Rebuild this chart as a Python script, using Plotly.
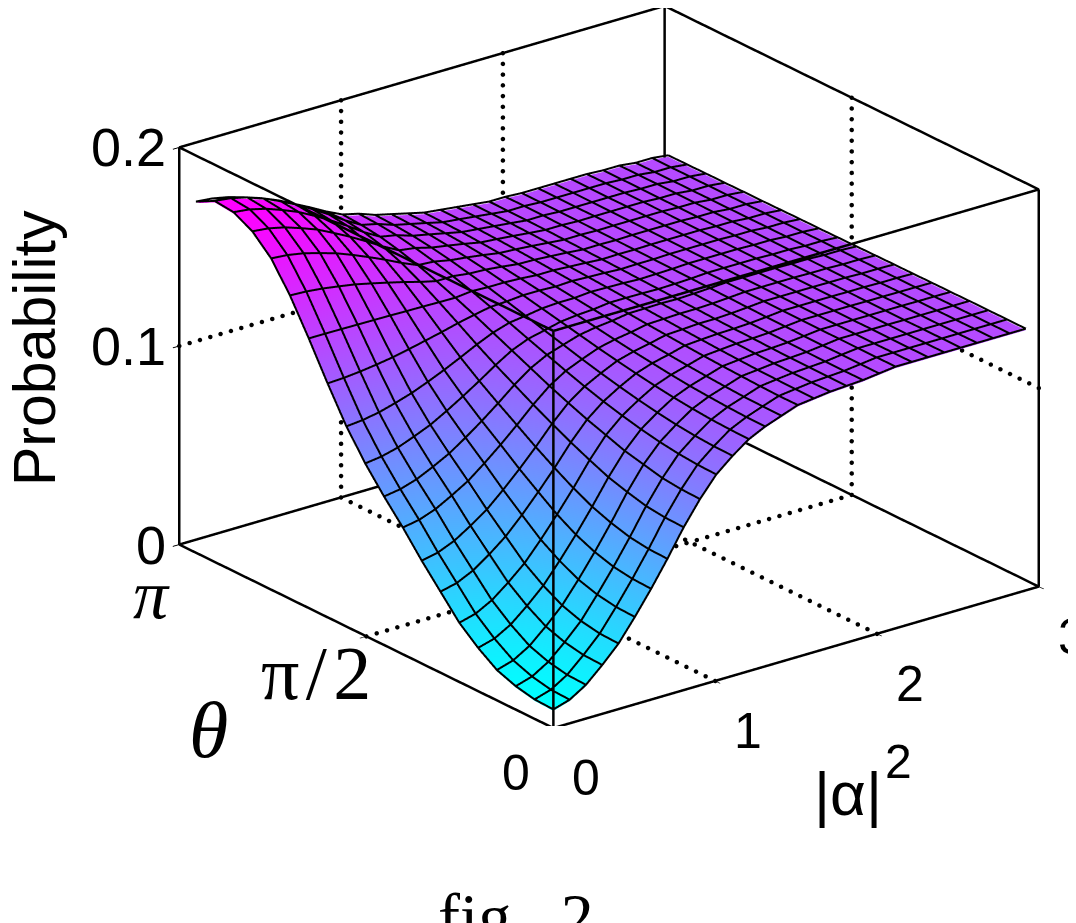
import plotly.graph_objects as go
import math

alpha2 = [0.1007 * i for i in range(30)]
theta = [0.158 * j for j in range(20)]
# rows: |alpha|^2 (30), columns: theta (20)
prob = [
[.0086,.009,.011,.0145,.021,.029,.040,.051,.063,.074,.086,.100,.117,.135,.152,.166,.175,.180,.181,.176],
[.0111,.0115,.0135,.017,.0233,.0312,.042,.0527,.0645,.0753,.0871,.1008,.1174,.135,.1516,.1653,.1741,.179,.18,.1752],
[.0162,.0166,.0185,.0219,.028,.0356,.0459,.0562,.0675,.0779,.0892,.1023,.1182,.1349,.1507,.1638,.1722,.1769,.178,.1735],
[.0238,.0242,.026,.0293,.035,.0421,.0517,.0614,.072,.0818,.0924,.1046,.1193,.1348,.1494,.1615,.1694,.1739,.175,.171],
[.0322,.0326,.0343,.0375,.0428,.0494,.0583,.0672,.0769,.0861,.0959,.1072,.1206,.1347,.148,.159,.1663,.1705,.1716,.1682],
[.0432,.0436,.0452,.0481,.0529,.0589,.0667,.0747,.0834,.0917,.1005,.1105,.1223,.1346,.1461,.1558,.1622,.1661,.1672,.1645],
[.055,.0554,.0568,.0596,.0637,.0692,.0759,.0828,.0904,.0977,.1055,.1141,.1242,.1344,.1441,.1523,.1579,.1614,.1625,.1606],
[.0677,.068,.0693,.0719,.0754,.0801,.0856,.0915,.0979,.1042,.1108,.118,.1261,.1343,.142,.1486,.1532,.1563,.1575,.1564],
[.0812,.0815,.0826,.085,.0878,.0918,.0961,.1008,.1058,.1111,.1164,.1221,.1282,.1341,.1397,.1446,.1483,.1508,.1521,.1519],
[.093,.0933,.0943,.0965,.0987,.102,.1052,.1089,.1128,.1171,.1214,.1257,.13,.134,.1377,.1411,.1439,.1461,.1474,.148],
[.103,.1033,.1041,.1054,.1072,.1094,.1119,.1148,.118,.1214,.1248,.1283,.1316,.1349,.1378,.1405,.1427,.1445,.1455,.146],
[.110,.1102,.1108,.1118,.1132,.1149,.1169,.1191,.1215,.1241,.1267,.1294,.132,.1345,.1367,.1388,.1405,.1418,.1426,.143],
[.116,.1162,.1166,.1174,.1184,.1197,.1212,.1229,.1247,.1267,.1287,.1307,.1327,.1345,.1363,.1378,.1391,.1401,.1407,.141],
[.120,.1201,.1205,.1211,.1218,.1228,.124,.1252,.1266,.1281,.1296,.1312,.1327,.1341,.1354,.1366,.1376,.1383,.1388,.139],
[.123,.1231,.1233,.1238,.1244,.1251,.1259,.1269,.1279,.1290,.1301,.1312,.1323,.1334,.1343,.1352,.1359,.1365,.1368,.137],
[.126,.126,.1262,.1266,.127,.1275,.1281,.1288,.1295,.1303,.1311,.1319,.1327,.1334,.1341,.1347,.1352,.1356,.1359,.136],
[.127,.127,.1272,.1274,.1278,.1282,.1287,.1292,.1298,.1304,.1311,.1317,.1323,.1329,.1335,.134,.1344,.1347,.1349,.135],
[.128,.128,.1281,.1283,.1286,.1289,.1292,.1297,.1301,.1306,.131,.1315,.132,.1324,.1329,.1332,.1335,.1338,.1339,.134],
[.1285,.1285,.1286,.1287,.1289,.1292,.1294,.1297,.1301,.1304,.1308,.1311,.1315,.1318,.1321,.1324,.1327,.1328,.1329,.133],
[.129,.129,.1291,.1292,.1294,.1296,.1298,.1301,.1304,.1307,.131,.1313,.1317,.132,.1322,.1325,.1327,.1329,.133,.133],
[.130,.130,.1301,.1301,.1302,.1304,.1305,.1307,.1309,.1311,.1313,.1315,.1317,.1319,.132,.1322,.1323,.1324,.1325,.1325],
[.131,.131,.131,.1311,.1311,.1312,.1313,.1314,.1315,.1316,.1318,.1319,.132,.1321,.1322,.1323,.1324,.1324,.1325,.1325],
[.131,.131,.131,.1311,.1311,.1312,.1313,.1314,.1315,.1316,.1318,.1319,.132,.1321,.1322,.1323,.1324,.1324,.1325,.1325],
[.131,.131,.131,.1311,.1311,.1312,.1313,.1314,.1315,.1316,.1318,.1319,.132,.1321,.1322,.1323,.1324,.1324,.1325,.1325],
[.131,.131,.131,.1311,.1311,.1312,.1313,.1314,.1315,.1316,.1318,.1319,.132,.1321,.1322,.1323,.1324,.1324,.1325,.1325],
[.131,.131,.131,.131,.1311,.1311,.1312,.1313,.1313,.1314,.1315,.1316,.1317,.1317,.1318,.1319,.1319,.132,.132,.132],
[.131,.131,.131,.131,.1311,.1311,.1312,.1313,.1313,.1314,.1315,.1316,.1317,.1317,.1318,.1319,.1319,.132,.132,.132],
[.131,.131,.131,.131,.131,.131,.131,.131,.131,.131,.131,.131,.131,.131,.131,.131,.131,.131,.131,.131],
[.131,.131,.131,.131,.131,.131,.131,.131,.131,.131,.131,.131,.131,.131,.131,.131,.131,.131,.131,.131],
[.131,.131,.131,.131,.1309,.1309,.1308,.1308,.1307,.1306,.1305,.1304,.1304,.1303,.1302,.1302,.1301,.1301,.130,.130],
]
x_ticks = [0, 1, 2, 3]
y_ticks = [0, math.pi / 2, math.pi]
y_labels = ["0", "π\u200a/\u200a2", "<i>π</i>"]
z_ticks = [0, 0.1, 0.2]
z_labels = ["0", "0.1", "0.2"]
X0, X1, Y0, Y1, Z0, Z1 = 0, 3, 0, math.pi, 0, 0.2
MESH_LIFT = 0.0008

z_by_theta = [[row[j] for row in prob] for j in range(len(theta))]

fig = go.Figure()
fig.add_trace(go.Surface(
    x=alpha2, y=theta, z=z_by_theta,
    colorscale=[[0, "#00ffff"], [1, "#ff00ff"]], showscale=False,
    lighting=dict(ambient=1, diffuse=0, specular=0, roughness=1, fresnel=0),
    hoverinfo="skip",
))

def seg(xs, ys, zs, width=5):
    fig.add_trace(go.Scatter3d(x=xs, y=ys, z=zs, mode="lines", hoverinfo="skip", showlegend=False,
                               line=dict(color="black", width=width)))

def dotted(a, b, n):
    t = [k / n for k in range(n + 1)]
    fig.add_trace(go.Scatter3d(
        x=[a[0] + (b[0] - a[0]) * s for s in t],
        y=[a[1] + (b[1] - a[1]) * s for s in t],
        z=[a[2] + (b[2] - a[2]) * s for s in t],
        mode="markers", hoverinfo="skip", showlegend=False,
        marker=dict(color="black", size=2.6, line=dict(width=0))))

# surface mesh, drawn from the same table
for j, th in enumerate(theta):
    seg(alpha2, [th] * len(alpha2), [v + MESH_LIFT for v in z_by_theta[j]], 4)
for i, a2 in enumerate(alpha2):
    seg([a2] * len(theta), theta, [v + MESH_LIFT for v in prob[i]], 4)

# dotted grid on floor and the two back walls
for xv in x_ticks[1:-1]:
    dotted((xv, Y0, Z0), (xv, Y1, Z0), 39)
    dotted((xv, Y1, Z0), (xv, Y1, Z1), 37)
for yv in y_ticks[1:-1]:
    dotted((X0, yv, Z0), (X1, yv, Z0), 47)
    dotted((X1, yv, Z0), (X1, yv, Z1), 37)
for zv in z_ticks[1:-1]:
    dotted((X0, Y1, zv), (X1, Y1, zv), 47)
    dotted((X1, Y1, zv), (X1, Y0, zv), 39)

# 12 box edges
for zv in (Z0, Z1):
    seg([X0, X1, X1, X0, X0], [Y0, Y0, Y1, Y1, Y0], [zv] * 5)
for xv in (X0, X1):
    for yv in (Y0, Y1):
        seg([xv, xv], [yv, yv], [Z0, Z1])

ax = dict(showbackground=False, showgrid=False, zeroline=False, showline=False, showspikes=False,
          ticks="outside", ticklen=8, tickcolor="black", tickwidth=2, title=dict(text=""), showticklabels=False)

sans = "Liberation Sans"
serif = "Liberation Serif"
scene_ann = []
for v in x_ticks:
    scene_ann.append(dict(x=v, y=Y0, z=Z0, text=str(v), showarrow=False, xshift=33, yshift=-50, xanchor="center", yanchor="middle",
                          font=dict(family=sans, size=50, color="black")))
y_shift = [(-37, -45), (-50, -37), (-28, -50)]
y_font = [(sans, 50), (serif, 76), (serif, 70)]
for v, t, (dx, dy), (fam, sz) in zip(y_ticks, y_labels, y_shift, y_font):
    scene_ann.append(dict(x=X0, y=v, z=Z0, text=t, showarrow=False, xshift=dx, yshift=dy, xanchor="center", yanchor="middle",
                          font=dict(family=fam, size=sz, color="black")))
for v, t in zip(z_ticks, z_labels):
    scene_ann.append(dict(x=X0, y=Y1, z=v, text=t, showarrow=False, xshift=-11, yshift=0, xanchor="right", yanchor="middle",
                          font=dict(family=sans, size=54, color="black")))

def px(text, x, y, family, size, **kw):
    return dict(text=text, x=x / 1076, y=1 - y / 923, xref="paper", yref="paper", showarrow=False,
                xanchor="center", yanchor="middle", font=dict(family=family, size=size, color="black"), **kw)

fig.update_layout(
    width=1076, height=923, margin=dict(l=0, r=0, t=0, b=0), paper_bgcolor="white", showlegend=False,
    scene=dict(
        domain=dict(x=[0.117, 1], y=[0.222, 1]),
        aspectmode="manual", aspectratio=dict(x=1.707, y=1.707, z=1.195),
        camera=dict(projection=dict(type="orthographic"),
                    eye=dict(x=-0.565 * 2, y=-0.733 * 2, z=0.378 * 2),
                    center=dict(x=0, y=0, z=0), up=dict(x=0, y=0, z=1)),
        xaxis=dict(ax, range=[X0, X1], tickvals=x_ticks),
        yaxis=dict(ax, range=[Y0, Y1], tickvals=y_ticks),
        zaxis=dict(ax, range=[Z0, Z1], tickvals=z_ticks),
        annotations=scene_ann,
    ),
    annotations=[
        px("Probability", 27, 340, sans, 59, textangle=-90),
        px("<i>θ</i>", 200, 722, serif, 80),
        px("|α|", 840, 785, sans, 62),
        px("2", 890, 753, sans, 48),
        px("fig.  2", 508, 908, serif, 66),
    ],
)
fig.write_html("out.html")
